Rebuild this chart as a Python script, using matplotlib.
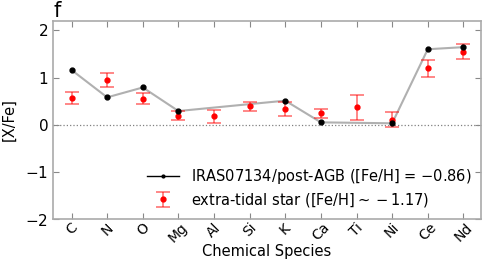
import numpy as np
import matplotlib
matplotlib.use("Agg")
import matplotlib.pyplot as plt

elements = ["C", "N", "O", "Mg", "Al", "Si", "K", "Ca", "Ti", "Ni", "Ce", "Nd"]
postagb = [1.16, 0.58, 0.79, 0.29, np.nan, np.nan, 0.51, 0.05, np.nan, 0.03, 1.60, 1.645]
star = [0.56, 0.95, 0.55, 0.19, 0.18, 0.39, 0.33, 0.24, 0.37, 0.11, 1.20, 1.55]
star_err = [0.13, 0.145, 0.12, 0.10, 0.14, 0.10, 0.15, 0.10, 0.26, 0.16, 0.18, 0.16]

fig = plt.figure(figsize=(4.91, 2.62), dpi=100)
ax = fig.add_axes([0.108, 0.164, 0.872, 0.756])

x = np.arange(len(elements))
pa = np.array(postagb)
ok = ~np.isnan(pa)
ax.plot(x[ok], pa[ok], color="#b0b0b0", lw=1.5, zorder=2)
ax.plot(x[ok], pa[ok], "o", color="black", ms=3.5, zorder=4)
# legend proxy
l1, = ax.plot([], [], "-", color="black", lw=1, marker="o", ms=2,
              label="IRAS07134/post-AGB ([Fe/H] = $-$0.86)")
eb = ax.errorbar(x, star, yerr=star_err, fmt="o", color="red", ms=3.5,
                 ecolor=(1, 0, 0, 0.55), elinewidth=1.2, capsize=5, capthick=1.2,
                 zorder=3, label="extra-tidal star ([Fe/H]$\\sim-$1.17)")
ax.axhline(0, color="gray", ls=":", lw=0.9, zorder=1)

ax.set_xlim(-0.52, 11.5)
ax.set_ylim(-2, 2.2)
ax.set_xticks(x)
ax.set_xticklabels(elements, rotation=45, fontsize=10)
ax.set_yticks([-2, -1, 0, 1, 2])
ax.set_yticklabels(["$-2$", "$-1$", "0", "1", "2"], fontsize=11)
ax.tick_params(direction="in", top=True, right=True, length=4, color="#888888")
ax.tick_params(axis="x", pad=1)
for s in ax.spines.values():
    s.set_color("#aaaaaa")
    s.set_linewidth(1.2)
ax.set_xlabel("Chemical Species", fontsize=10.5, labelpad=-1)
ax.set_ylabel("[X/Fe]", fontsize=10.5, labelpad=6)
ax.legend(handles=[l1, eb], loc="lower right", frameon=False, fontsize=10.5,
          handlelength=2.2, borderaxespad=0.3, labelspacing=0.3)
fig.text(0.108, 0.935, "f", fontsize=15)
fig.savefig("out.png", dpi=100)
